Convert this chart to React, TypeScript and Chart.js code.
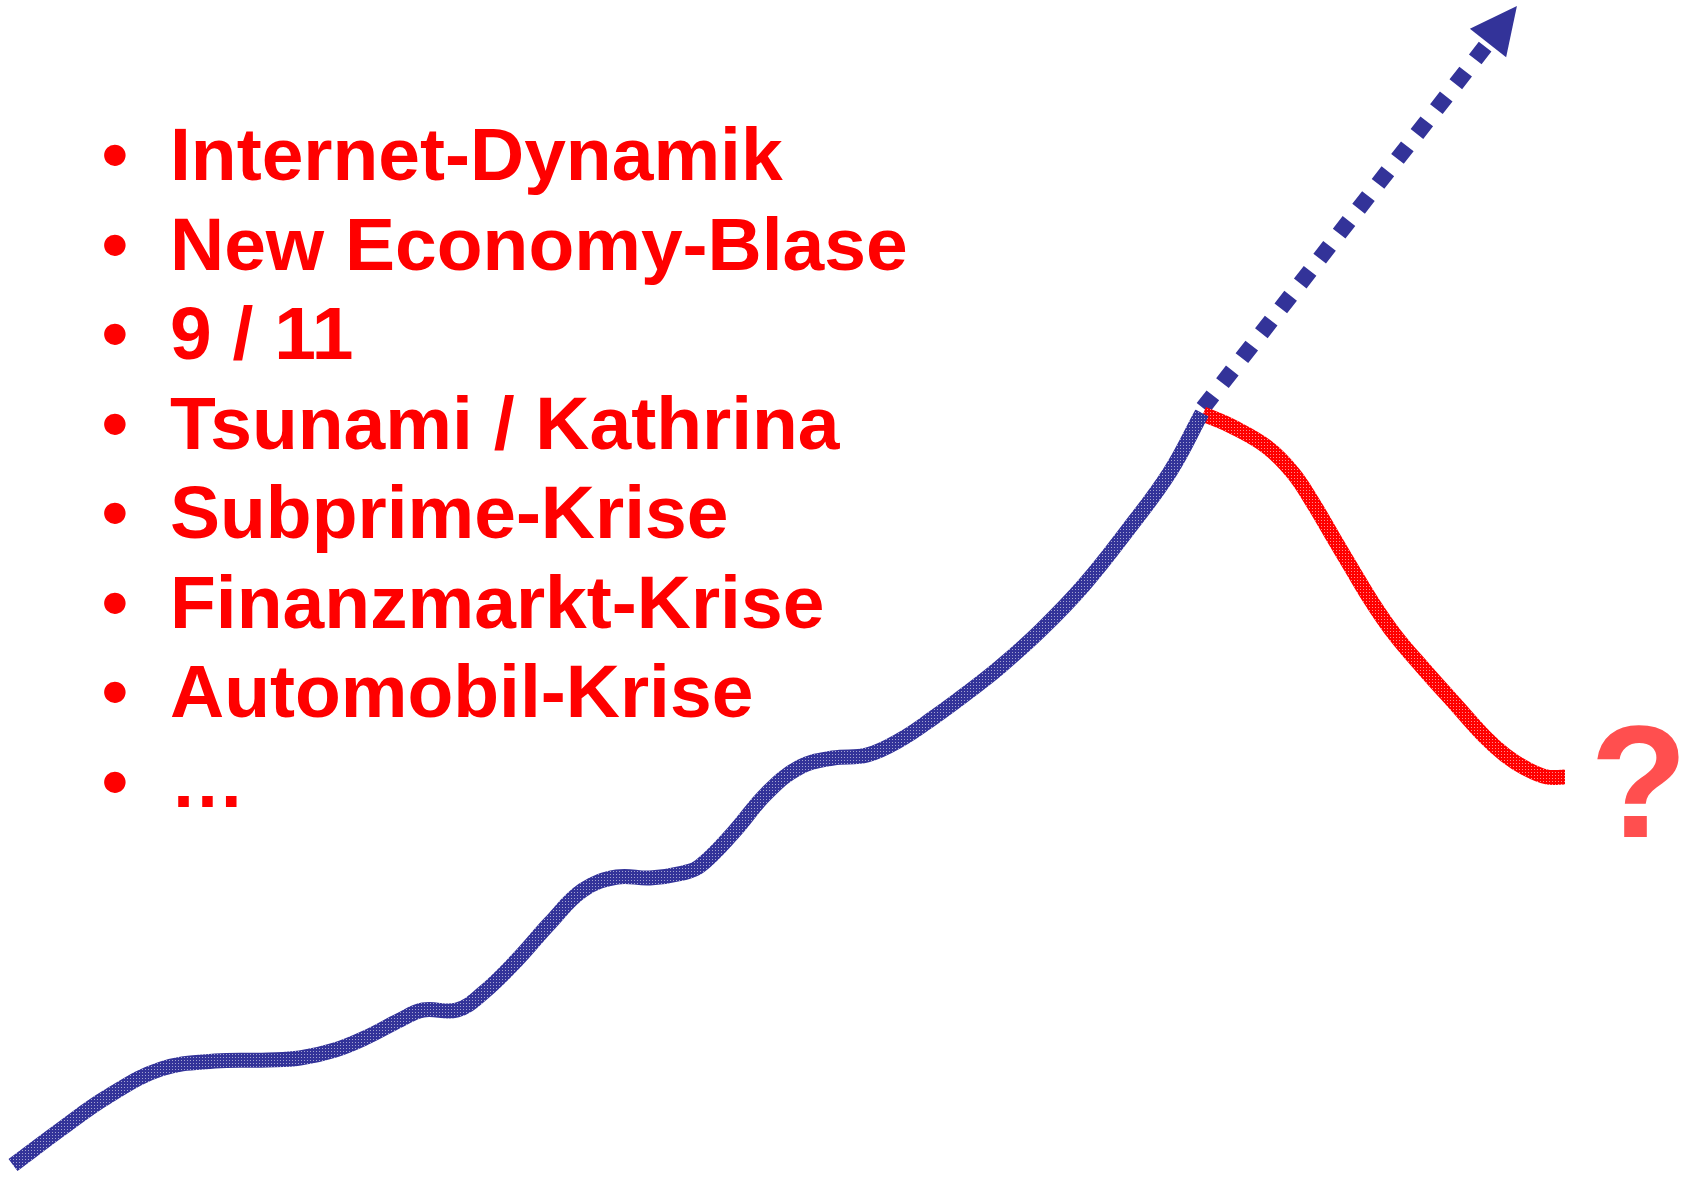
import React, { useEffect, useRef } from "react";
import { Chart, registerables } from "chart.js";

Chart.register(...registerables);

// ---- data ----
const growthX = [13, 64, 107, 161, 215, 268, 300, 335, 367, 400, 423, 457, 483, 517, 550, 583, 617, 650, 683, 700, 733, 767, 800, 833, 867, 900, 933, 967, 1000, 1041, 1084, 1127, 1170, 1202];
const growthY = [12, 50, 80, 108, 116, 117, 119, 127, 140, 157, 167, 167, 184, 217, 254, 287, 300, 299, 304, 311, 344, 384, 410, 419, 422, 437, 459, 484, 510, 547, 592, 646, 705, 764];

const declineX = [1203, 1233, 1267, 1293, 1313, 1333, 1352, 1372, 1395, 1423, 1457, 1485, 1505, 1525, 1547, 1565];
const declineY = [763, 750, 730, 704, 674, 640, 608, 575, 542, 509, 471, 440, 422, 409, 400, 400];

const hopeX = [1203, 1488];
const hopeY = [769, 1134];

const bulletItems = [
  "Internet-Dynamik",
  "New Economy-Blase",
  "9 / 11",
  "Tsunami / Kathrina",
  "Subprime-Krise",
  "Finanzmarkt-Krise",
  "Automobil-Krise",
  "…",
];
const questionLabel = "?";

const W = 1683;
const H = 1177;
const BLUE = "#333399";
const RED = "#ff0000";

function makePattern(color: string): CanvasPattern | string {
  const c = document.createElement("canvas");
  c.width = 3;
  c.height = 3;
  const g = c.getContext("2d");
  if (!g) return color;
  g.fillStyle = color;
  g.fillRect(0, 0, 3, 3);
  g.fillStyle = "rgba(255,255,255,0.55)";
  g.fillRect(1, 1, 1, 1);
  return g.createPattern(c, "repeat") || color;
}

const toPts = (xs: number[], ys: number[]) => xs.map((x, i) => ({ x, y: ys[i] }));

const arrowHeadPlugin = {
  id: "arrowHead",
  afterDatasetsDraw(chart: any) {
    const meta = chart.getDatasetMeta(2);
    if (!meta || meta.data.length < 2) return;
    const p0 = meta.data[meta.data.length - 2];
    const p1 = meta.data[meta.data.length - 1];
    const dx = p1.x - p0.x;
    const dy = p1.y - p0.y;
    const len = Math.hypot(dx, dy) || 1;
    const ux = dx / len;
    const uy = dy / len;
    const headLen = 47;
    const half = 23;
    const ctx = chart.ctx;
    ctx.save();
    ctx.fillStyle = BLUE;
    ctx.beginPath();
    ctx.moveTo(p1.x + ux * headLen, p1.y + uy * headLen);
    ctx.lineTo(p1.x - uy * half, p1.y + ux * half);
    ctx.lineTo(p1.x + uy * half, p1.y - ux * half);
    ctx.closePath();
    ctx.fill();
    ctx.restore();
  },
};

const textPlugin = {
  id: "bulletText",
  afterDraw(chart: any) {
    const ctx = chart.ctx;
    ctx.save();
    ctx.textBaseline = "alphabetic";
    ctx.fillStyle = RED;
    ctx.font = 'bold 75px "Liberation Sans", Arial, sans-serif';
    bulletItems.forEach((t, i) => {
      const y = 180 + i * 89.5;
      ctx.textAlign = "center";
      ctx.fillText("•", 115, y);
      ctx.textAlign = "left";
      ctx.fillText(t, 170, y);
    });
    ctx.fillStyle = "#ff4f4f";
    ctx.font = 'bold 160px "Liberation Sans", Arial, sans-serif';
    ctx.textAlign = "left";
    ctx.fillText(questionLabel, 1590, 837);
    ctx.restore();
  },
};

export default function App() {
  const ref = useRef<HTMLCanvasElement>(null);
  useEffect(() => {
    if (!ref.current) return;
    const chart = new Chart(ref.current, {
      type: "line",
      data: {
        datasets: [
          {
            data: toPts(growthX, growthY),
            borderColor: makePattern(BLUE) as any,
            borderWidth: 15,
            borderCapStyle: "butt",
            tension: 0.4,
            pointRadius: 0,
            fill: false,
          },
          {
            data: toPts(declineX, declineY),
            borderColor: makePattern(RED) as any,
            borderWidth: 15,
            borderCapStyle: "butt",
            tension: 0.4,
            pointRadius: 0,
            fill: false,
          },
          {
            data: toPts(hopeX, hopeY),
            borderColor: BLUE,
            borderWidth: 16,
            borderDash: [16, 15.6],
            borderCapStyle: "butt",
            pointRadius: 0,
            fill: false,
            tension: 0,
          },
        ],
      },
      options: {
        animation: false,
        responsive: false,
        devicePixelRatio: 1,
        layout: { padding: 0 },
        plugins: { legend: { display: false }, tooltip: { enabled: false } },
        scales: {
          x: { type: "linear", min: 0, max: W, display: false },
          y: { type: "linear", min: 0, max: H, display: false },
        },
      },
      plugins: [arrowHeadPlugin, textPlugin],
    });
    return () => chart.destroy();
  }, []);
  return (
    <div style={{ position: "absolute", left: 0, top: 0, width: W, height: H, background: "#fff" }}>
      <canvas ref={ref} width={W} height={H} style={{ display: "block" }} />
    </div>
  );
}
